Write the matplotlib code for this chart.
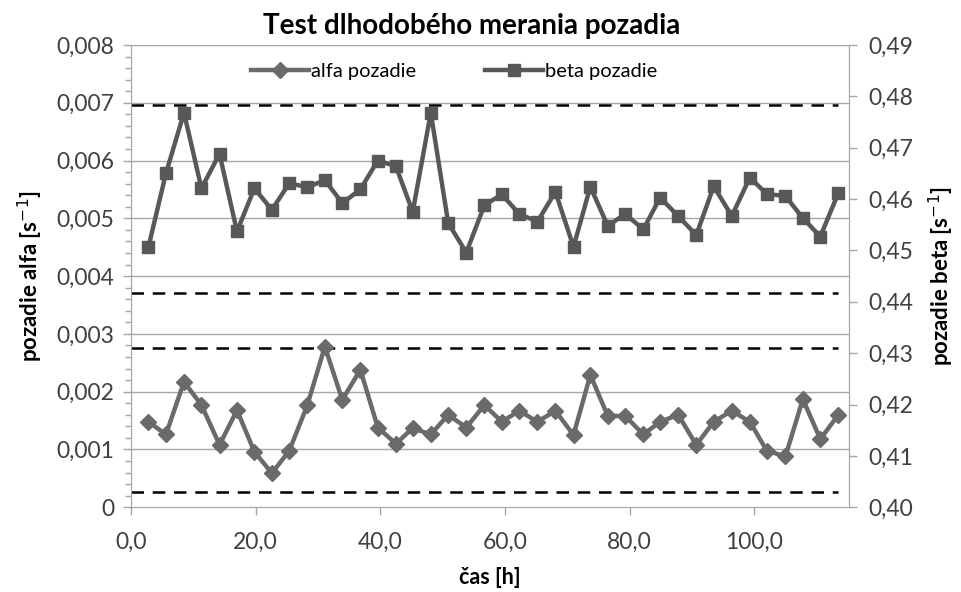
import matplotlib.pyplot as plt
from matplotlib.ticker import MultipleLocator, FuncFormatter

plt.rcParams['font.family'] = ['Lato', 'DejaVu Sans']

# measurement time [h]
cas = [2.8, 5.6, 8.5, 11.3, 14.2, 17.0, 19.8, 22.6, 25.4, 28.3,
       31.1, 33.9, 36.8, 39.6, 42.5, 45.2, 48.1, 50.9, 53.8, 56.7,
       59.5, 62.3, 65.2, 68.1, 71.0, 73.7, 76.5, 79.3, 82.2, 84.9,
       87.8, 90.7, 93.5, 96.4, 99.3, 102.0, 105.0, 107.8, 110.6, 113.5]

alfa = [0.00148, 0.00126, 0.00217, 0.00177, 0.00108, 0.00168, 0.00096, 0.00059, 0.00098, 0.00177,
        0.00278, 0.00186, 0.00238, 0.00138, 0.00110, 0.00137, 0.00126, 0.00160, 0.00138, 0.00177,
        0.00148, 0.00167, 0.00148, 0.00167, 0.00125, 0.00229, 0.00158, 0.00158, 0.00126, 0.00148,
        0.00160, 0.00108, 0.00148, 0.00167, 0.00148, 0.00098, 0.00088, 0.00187, 0.00118, 0.00160]

beta = [0.4507, 0.4650, 0.4768, 0.4621, 0.4688, 0.4537, 0.4621, 0.4579, 0.4631, 0.4623,
        0.4637, 0.4592, 0.4619, 0.4675, 0.4664, 0.4575, 0.4768, 0.4553, 0.4496, 0.4588,
        0.4609, 0.4571, 0.4556, 0.4614, 0.4507, 0.4624, 0.4548, 0.4571, 0.4541, 0.4603,
        0.4567, 0.4530, 0.4625, 0.4567, 0.4642, 0.4610, 0.4606, 0.4563, 0.4527, 0.4612]

# control limits
alfa_limits = [0.00275, 0.00026]
beta_limits = [0.4783, 0.4417]
limit_span = [0.0, 113.5]

fig = plt.figure(figsize=(9.62, 5.92), dpi=100)
ax = fig.add_axes([0.1362, 0.1431, 0.8825 - 0.1362, 0.924 - 0.1431])
ax2 = ax.twinx()

grid_c = '#a6a6a6'
txt_c = '#404040'

for y in [0.001 * i for i in range(1, 9)]:
    ax.axhline(y, color=grid_c, lw=1.0, zorder=0)

l1, = ax.plot(cas, alfa, color='#6a6a6a', lw=3.2, marker='D', ms=8,
              label='alfa pozadie', zorder=3)
for lim in alfa_limits:
    ax.plot(limit_span, [lim, lim], color='black', lw=1.8, ls=(0, (5, 3.5)), zorder=2)

l2, = ax2.plot(cas, beta, color='#585858', lw=3.2, marker='s', ms=8,
               label='beta pozadie', zorder=3)
for lim in beta_limits:
    ax2.plot(limit_span, [lim, lim], color='black', lw=1.8, ls=(0, (5, 3.5)), zorder=2)

ax.set_xlim(0, 115.2)
ax.set_ylim(0, 0.008)
ax2.set_ylim(0.40, 0.49)

ax.xaxis.set_major_locator(MultipleLocator(20))
ax.xaxis.set_major_formatter(FuncFormatter(lambda v, p: f"{v:.1f}".replace('.', ',')))
ax.yaxis.set_major_locator(MultipleLocator(0.001))
ax.yaxis.set_minor_locator(MultipleLocator(0.0002))
ax.yaxis.set_major_formatter(FuncFormatter(
    lambda v, p: '0' if abs(v) < 1e-9 else f"{v:.3f}".replace('.', ',')))
ax2.yaxis.set_major_locator(MultipleLocator(0.01))
ax2.yaxis.set_major_formatter(FuncFormatter(lambda v, p: f"{v:.2f}".replace('.', ',')))

for a in (ax, ax2):
    for s in a.spines.values():
        s.set_color(grid_c)
    a.spines['top'].set_visible(False)
    a.tick_params(colors=grid_c, labelcolor=txt_c, labelsize=16.5, length=6, width=1)
ax.tick_params(which='minor', colors=grid_c, length=4, width=1)
ax.tick_params(axis='y', pad=6)
ax2.tick_params(axis='y', pad=8)
ax.tick_params(axis='x', pad=12)

ax.set_title('Test dlhodobého merania pozadia', fontsize=20, fontweight='bold',
             pad=8, x=0.474)
ax.set_xlabel('čas [h]', fontsize=15.5, fontweight='bold', labelpad=10)
ax.set_ylabel('pozadie alfa [s$^{-1}$]', fontsize=16, fontweight='bold', labelpad=8)
ax2.set_ylabel('pozadie beta [s$^{-1}$]', fontsize=16, fontweight='bold', labelpad=10)

ax2.legend([l1, l2], ['alfa pozadie', 'beta pozadie'], loc='upper center',
           bbox_to_anchor=(0.45, 1.0), ncol=2, frameon=False, fontsize=14.5,
           handlelength=2.9, columnspacing=3.4, handletextpad=0.1)

fig.savefig('out.png', dpi=100)
